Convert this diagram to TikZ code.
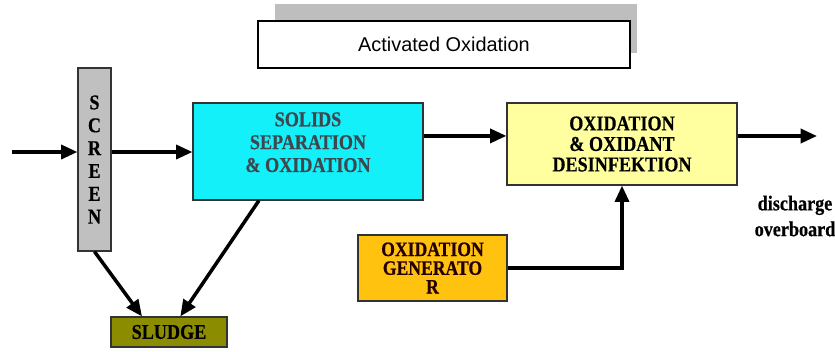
\documentclass[tikz,border=0pt]{standalone}
\usepackage{fontspec}
\setmainfont{Liberation Serif}
\newfontfamily\boxfont[FakeStretch=0.86,FakeBold=0.5]{Liberation Serif}
\newfontfamily\titlefont{Liberation Sans}
\usetikzlibrary{arrows.meta}

\definecolor{screengrey}{RGB}{192,192,192}
\definecolor{solidscyan}{RGB}{20,240,250}
\definecolor{oxidyellow}{RGB}{255,255,160}
\definecolor{genorange}{RGB}{255,194,14}
\definecolor{sludgeolive}{RGB}{140,140,0}
\definecolor{shadowgrey}{RGB}{190,190,190}

\tikzstyle{procblock} = [rectangle, draw=black!80, line width=1pt, text centered, align=center, inner sep=0pt, font=\boxfont\bfseries\fontsize{18}{17.5}\selectfont]
\tikzstyle{flow} = [-{Triangle[length=14pt,width=12pt]}, line width=3pt]

\begin{document}
\begin{tikzpicture}[x=0.03cm, y=-0.03cm]
\useasboundingbox (0,0) rectangle (835,351);

%Title
\fill [shadowgrey] (275,4) rectangle (637,53);
\node (title) [rectangle, draw=black, line width=1pt, fill=white, minimum width=11.16cm, minimum height=1.41cm, font=\titlefont\fontsize{17}{19}\selectfont] at (444,44.5) {Activated Oxidation};

%Custom blocks
\node (screen) [procblock, fill=screengrey, minimum width=0.99cm, minimum height=5.49cm, font=\boxfont\bfseries\fontsize{18}{19.5}\selectfont] at (94.5,159.5) {S\\C\\R\\E\\E\\N};
\node (solids) [procblock, fill=solidscyan, minimum width=6.9cm, minimum height=2.91cm, text=black!80!cyan, font=\boxfont\bfseries\fontsize{18}{19.5}\selectfont] at (308,151.5) {SOLIDS\\SEPARATION\\\& OXIDATION\\[-3.5pt]};
\node (oxid) [procblock, fill=oxidyellow, minimum width=6.9cm, minimum height=2.46cm] at (622,144) {OXIDATION\\\& OXIDANT\\DESINFEKTION};
\node (gen) [procblock, fill=genorange, minimum width=4.47cm, minimum height=1.98cm, text=black!85!red, font=\boxfont\bfseries\fontsize{17.5}{16}\selectfont] at (432.5,268) {OXIDATION\\GENERATO\\R};
\node (sludge) [procblock, fill=sludgeolive, minimum width=3.48cm, minimum height=0.9cm] at (169,332) {SLUDGE};
\node (discharge) [align=center, font=\boxfont\bfseries\fontsize{18}{22}\selectfont] at (795,216) {discharge\\overboard};

%Arrows
\coordinate (inlet) at (12,152);
\coordinate (outlet) at (817,136);
\draw [flow] (inlet) -- (screen.west |- inlet);
\draw [flow] (screen.east |- inlet) -- (solids.west |- inlet);
\draw [flow] (solids.east |- oxid.176) -- (oxid.176);
\draw [flow] (oxid.east |- outlet) -- (outlet);
\draw [flow] (gen.east) -| (oxid.south);
\draw [flow] (screen.south) -- (sludge.150);
\draw [flow] (solids.225) -- (sludge.54);
\end{tikzpicture}
\end{document}
